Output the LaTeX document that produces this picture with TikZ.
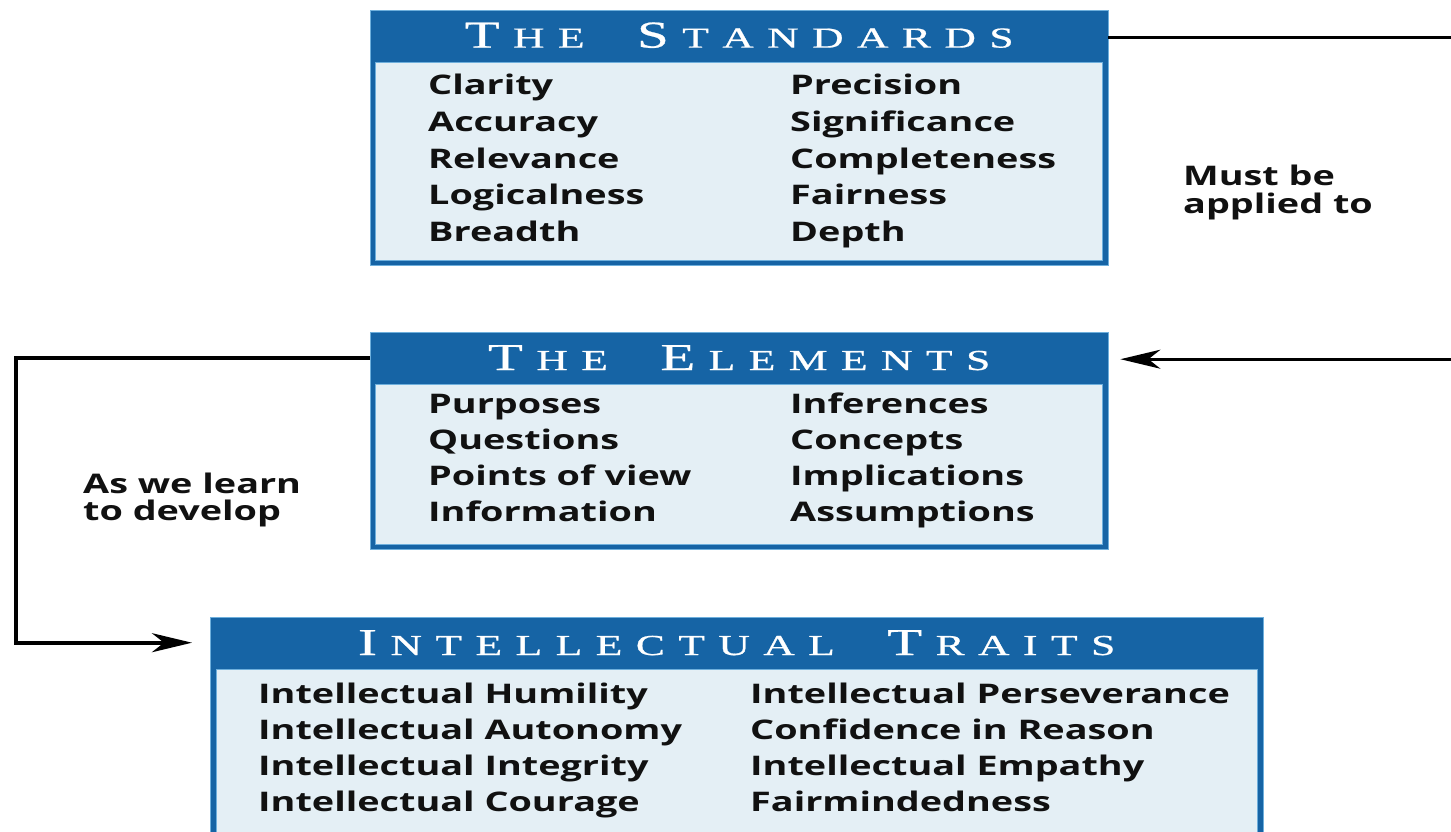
\documentclass[tikz,border=0pt]{standalone}
\usepackage{fontspec}
\usepackage{graphicx}
\setmainfont{Open Sans}
\newfontfamily\hdrf{Liberation Serif}[FakeBold=0.6]
\usetikzlibrary{arrows.meta,calc}
\definecolor{dblue}{RGB}{22,100,165}
\definecolor{lblue}{RGB}{228,239,245}
\definecolor{mblue}{RGB}{110,175,220}
\definecolor{ink}{RGB}{17,17,17}
\newlength\hgap \setlength\hgap{9pt}
\newlength\wgap \setlength\wgap{26pt}
\ExplSyntaxOn
\NewDocumentCommand\spaceout{m}{\tl_map_inline:nn{#1}{##1\kern\hgap}}
\ExplSyntaxOff
\newcommand\HB[1]{{\fontsize{38}{38}\selectfont #1}\kern\hgap}
\newcommand\HS[1]{{\fontsize{29}{29}\selectfont\spaceout{#1}}}
\newcommand\HT[1]{{\hdrf\scalebox{1.5}[1]{#1\unkern}}}
\newcommand\sx[1]{\scalebox{1.4}[1]{#1}}
\begin{document}
\begin{tikzpicture}[x=1pt,y=-1pt,
  outerbox/.style={fill=dblue, draw=mblue, line width=0.8pt, inner sep=0pt, anchor=north west},
  hdrbox/.style={inner sep=0pt, anchor=north west, text=white},
  bodybox/.style={fill=lblue, draw=mblue, line width=0.8pt, inner sep=0pt, anchor=north west},
  item/.style={anchor=base west, inner sep=0pt, text=ink, font=\fontsize{27}{27}\selectfont\bfseries},
  lab/.style={anchor=base west, inner sep=0pt, text=ink, font=\fontsize{27}{27}\selectfont\bfseries},
  conn/.style={draw=black, line width=3pt},
  tip/.style={-{Stealth[length=40pt,width=19pt,inset=12pt]}}
]
\useasboundingbox (0,0) rectangle (1451,831);
% Standards
\node[outerbox, minimum width=738pt, minimum height=255pt] (std) at (370,10) {};
\node[bodybox, minimum width=727pt, minimum height=198pt] (bStd) at (375,62) {};
\node[hdrbox, minimum width=738pt, minimum height=50pt] (hStd) at (370,10)
  {\HT{\HB{T}\HS{HE}\kern\wgap\HB{S}\HS{TANDARDS}}};
\foreach \t [count=\i] in {Clarity,Accuracy,Relevance,Logicalness,Breadth}
  \node[item] (sa\i) at (428,{94.5+36.8*(\i-1)}) {\sx{\t}};
\foreach \t [count=\i] in {Precision,Significance,Completeness,Fairness,Depth}
  \node[item] (sb\i) at (790,{94.5+36.8*(\i-1)}) {\sx{\t}};
% Elements
\node[outerbox, minimum width=738pt, minimum height=217pt] (elem) at (370,332) {};
\node[bodybox, minimum width=727pt, minimum height=160pt] (bElem) at (375,384) {};
\node[hdrbox, minimum width=738pt, minimum height=51pt] (hElem) at (370,332)
  {\HT{\HB{T}\HS{HE}\kern\wgap\HB{E}\HS{LEMENTS}}};
\foreach \t [count=\i] in {Purposes,Questions,Points of view,Information}
  \node[item] (ea\i) at (428,{413.3+36.2*(\i-1)}) {\sx{\t}};
\foreach \t [count=\i] in {Inferences,Concepts,Implications,Assumptions}
  \node[item] (eb\i) at (790,{413.3+36.2*(\i-1)}) {\sx{\t}};
% Traits
\node[outerbox, minimum width=1053pt, minimum height=240pt] (tr) at (210,617) {};
\node[bodybox, minimum width=1041pt, minimum height=200pt] (bTr) at (216,669) {};
\node[hdrbox, minimum width=1053pt, minimum height=51pt] (hTr) at (210,617)
  {\HT{\HB{I}\HS{NTELLECTUAL}\kern\wgap\HB{T}\HS{RAITS}}};
\foreach \t [count=\i] in {Intellectual Humility,Intellectual Autonomy,Intellectual Integrity,Intellectual Courage}
  \node[item] (ta\i) at (258,{703.3+36.2*(\i-1)}) {\sx{\t}};
\foreach \t [count=\i] in {Intellectual Perseverance,Confidence in Reason,Intellectual Empathy,Fairmindedness}
  \node[item] (tb\i) at (750,{703.3+36.2*(\i-1)}) {\sx{\t}};
% labels
\node[lab] (m1) at (1183,185) {\sx{Must be}};
\node[lab] (m2) at (1183,213) {\sx{applied to}};
\node[lab] (a1) at (83,493) {\sx{As we learn}};
\node[lab] (a2) at (83,520) {\sx{to develop}};
% connectors
\coordinate (R) at (1451,0);
\coordinate (L) at (16,0);
\draw[conn] ([yshift=-2pt]hStd.east) -- ([yshift=-2pt]hStd.east -| R);
\draw[conn, tip] ([yshift=-1.5pt]hElem.east -| R) -- ([xshift=12pt,yshift=-1.5pt]hElem.east);
\draw[conn, line width=4pt, tip] (hElem.west) -- (hElem.west -| L) |- ([xshift=-18pt]hTr.west);
\end{tikzpicture}
\end{document}
